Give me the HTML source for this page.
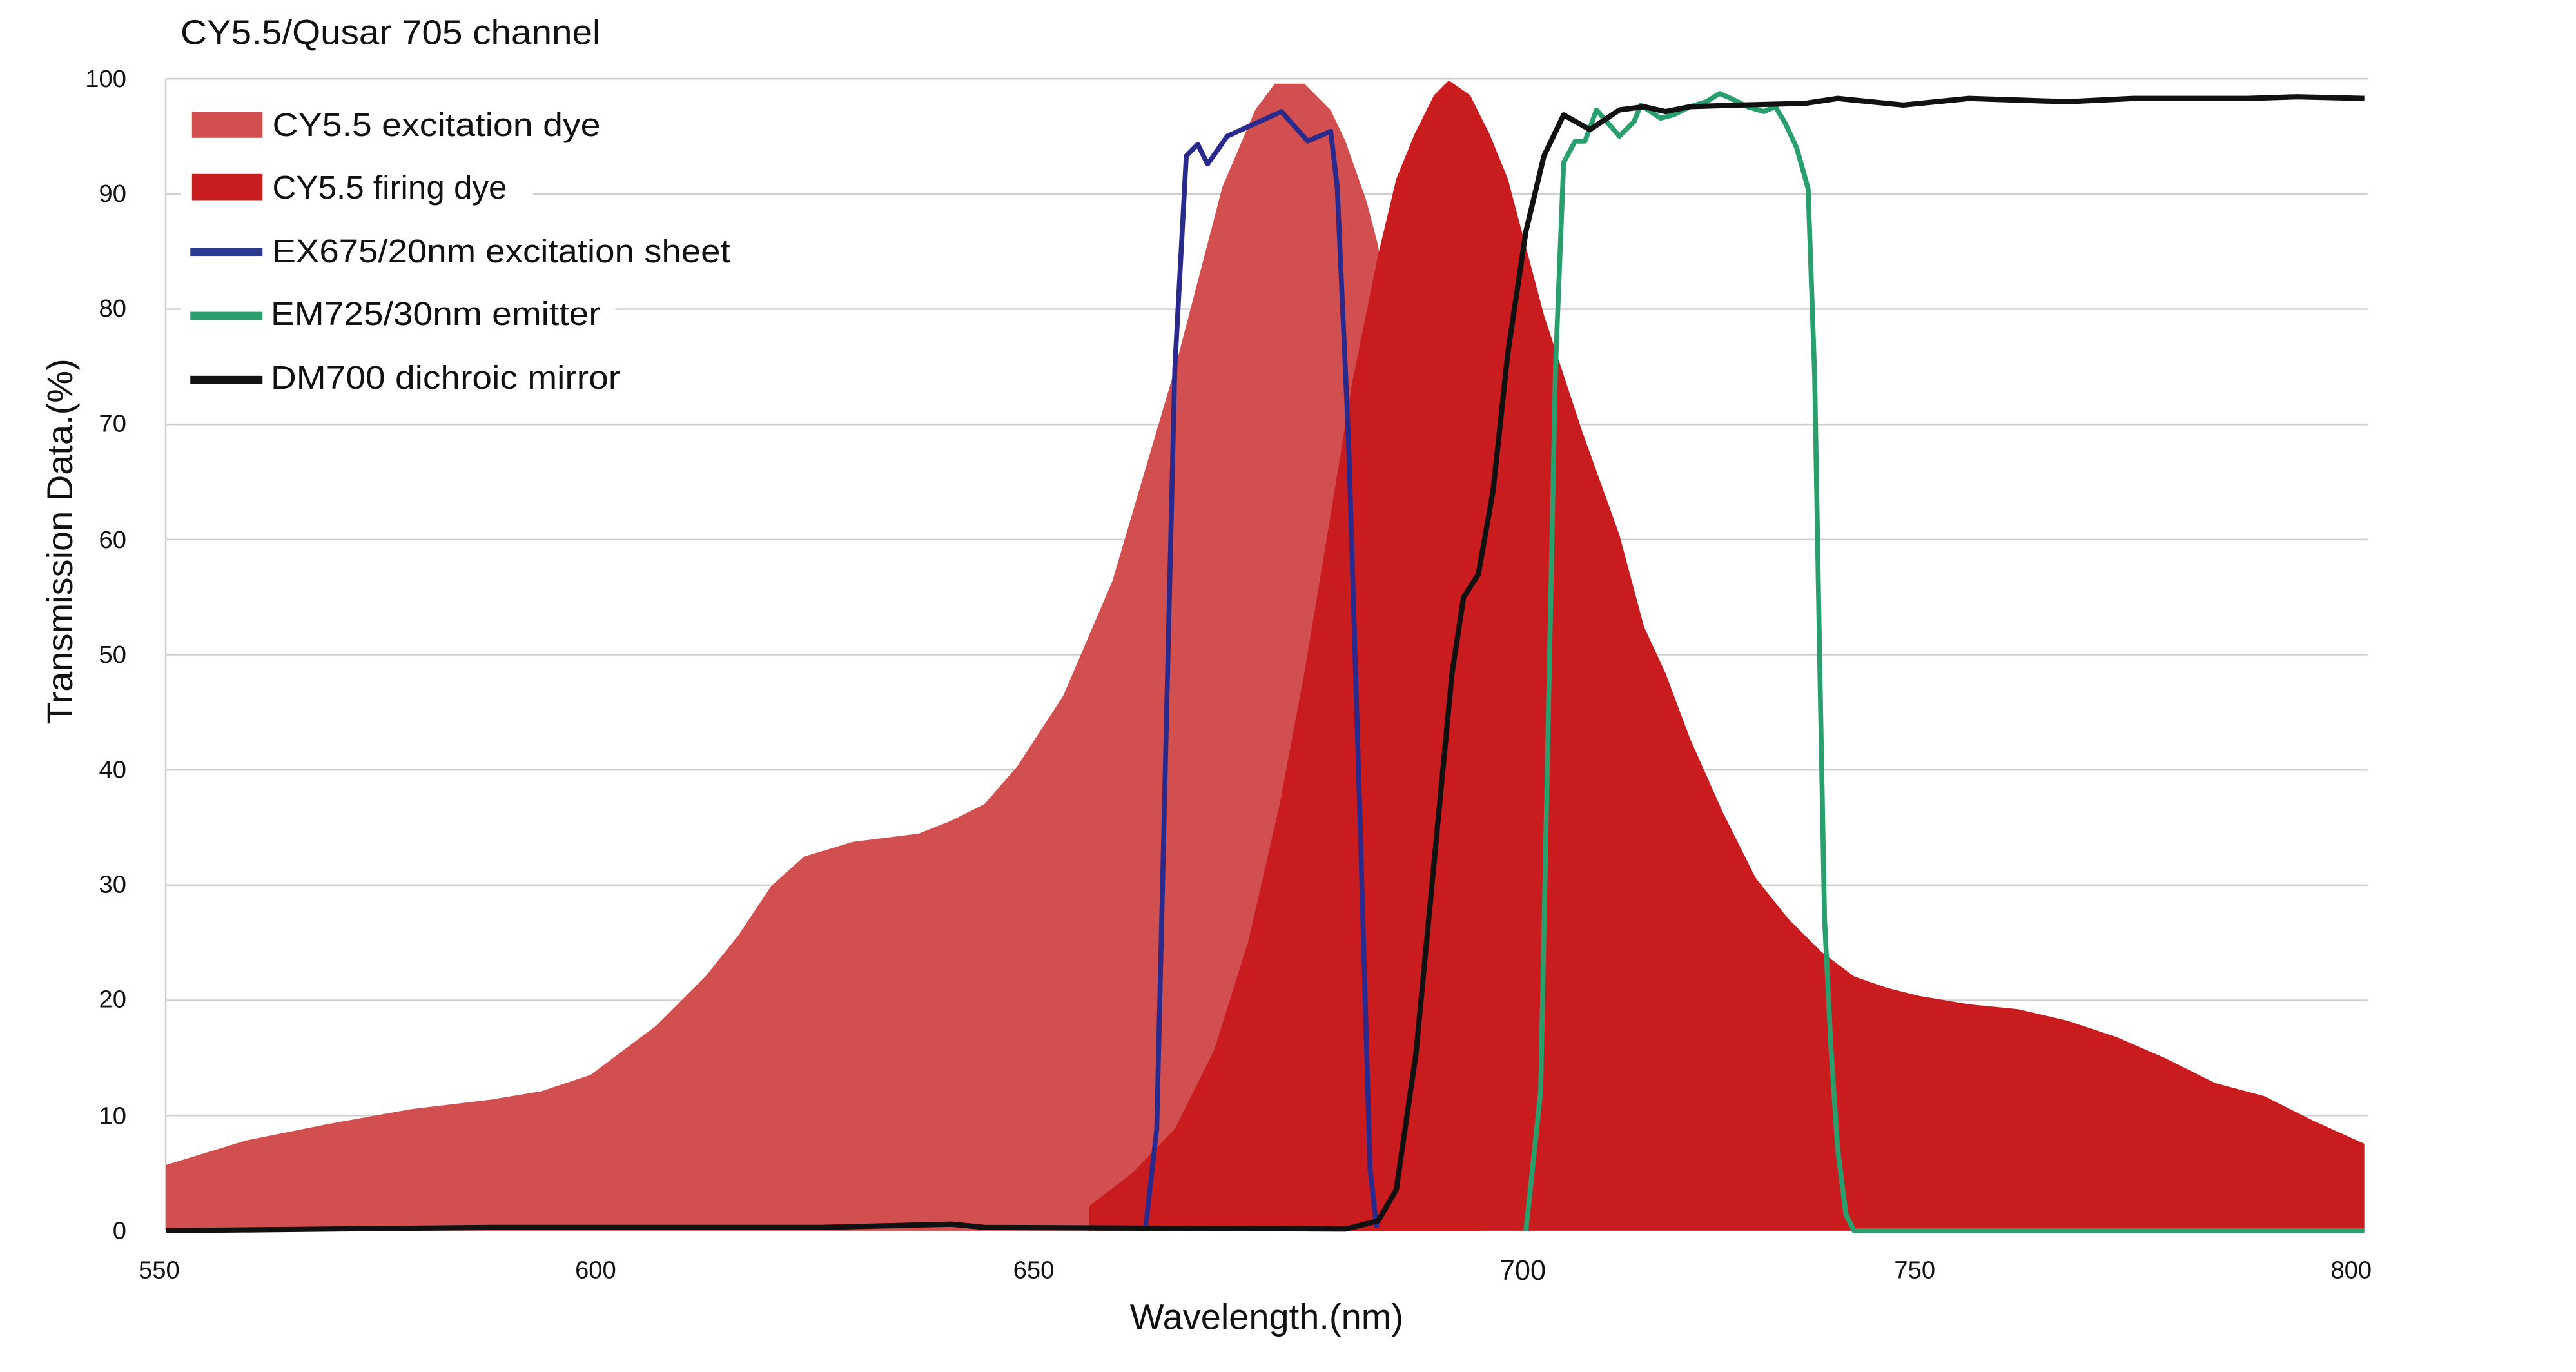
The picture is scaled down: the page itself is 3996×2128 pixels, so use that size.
<!DOCTYPE html>
<html><head><meta charset="utf-8"><style>
html,body{margin:0;padding:0;background:#fff;}
svg{display:block;}
text{font-family:"Liberation Sans Narrow","Liberation Sans",sans-serif;fill:#111;}
</style></head><body>
<svg width="3996" height="2128" viewBox="0 0 1570 836.1" preserveAspectRatio="none" xmlns="http://www.w3.org/2000/svg">
<defs>
<clipPath id="exc"><path id="excp" d="M101,750 L101,710 L150,695 L200,685 L250,676 L300,670 L330,665 L360,655 L400,625 L430,595 L450,570 L470,540 L490,522 L520,513 L560,508 L580,500 L600,490 L620,467 L648,424 L678,354 L716,225 L745,114 L765,67 L777,51 L795,51 L811,67 L820,86 L833,123 L840,150 L850,230 L860,330 L870,450 L880,580 L890,690 L900,750 Z"/></clipPath>
</defs>
<rect width="1570" height="837" fill="#fff"/>
<g stroke="#cfcfcf" stroke-width="1">
<line x1="101" y1="48" x2="1443" y2="48"/>
<line x1="101" y1="118.2" x2="1443" y2="118.2"/>
<line x1="101" y1="188.4" x2="1443" y2="188.4"/>
<line x1="101" y1="258.6" x2="1443" y2="258.6"/>
<line x1="101" y1="328.8" x2="1443" y2="328.8"/>
<line x1="101" y1="399" x2="1443" y2="399"/>
<line x1="101" y1="469.2" x2="1443" y2="469.2"/>
<line x1="101" y1="539.4" x2="1443" y2="539.4"/>
<line x1="101" y1="609.6" x2="1443" y2="609.6"/>
<line x1="101" y1="679.8" x2="1443" y2="679.8"/>
<line x1="101" y1="48" x2="101" y2="750"/>
</g>
<use href="#excp" fill="#d24f50"/>
<path id="emi" fill="#c81c1e" d="M664,750 L664,735 L690,715 L716,688 L740,640 L761,573 L780,490 L795,410 L810,320 L824,234 L840,155 L851,109 L862,82 L874,58 L883,49 L896,58 L908,82 L919,109 L941,192 L964,262 L987,326 L1002,382 L1015,410 L1030,450 L1050,495 L1070,535 L1090,560 L1110,580 L1130,595 L1150,602 L1170,607 L1200,612 L1230,615 L1260,622 L1290,632 L1320,645 L1350,660 L1380,668 L1410,683 L1441,697 L1441,750 Z"/>
<use href="#emi" fill="#c10b0d" clip-path="url(#exc)"/>
<polyline fill="none" stroke="#2a2a8c" stroke-width="3" stroke-linejoin="round" points="698,750 705,688 716,225 723,95 730,88 736,100 748,83 781,68 797,86 811,80 815,114 822,271 829,503 835,712 839,748"/>
<polyline fill="none" stroke="#2a9f6e" stroke-width="3" stroke-linejoin="round" points="930,750 939,665 948,225 953,99 960,86 966,86 973,67 980,75 987,83 996,74 1000,64 1006,68 1012,72 1020,70 1030,65 1040,62 1048,57 1055,60 1065,65 1075,68 1082,65 1088,75 1095,90 1102,115 1106,230 1109,400 1112,560 1116,640 1120,700 1125,740 1130,750 1441,750"/>
<polyline fill="none" stroke="#111" stroke-width="3.2" stroke-linejoin="round" points="101,750 300,748 500,748 580,746 600,748 820,749 840,744 851,725 863,642 874,526 885,410 892,364 901,350 910,299 919,215 930,141 941,95 953,70 969,79 987,67 1002,65 1015,68 1030,65 1060,64 1100,63 1120,60 1140,62 1160,64 1180,62 1200,60 1230,61 1260,62 1300,60 1340,60 1370,60 1400,59 1441,60"/>
<g fill="#fff">
<rect x="110" y="62" width="265" height="28"/>
<rect x="110" y="100" width="215" height="28"/>
<rect x="110" y="139" width="345" height="28"/>
<rect x="110" y="177" width="265" height="28"/>
<rect x="110" y="216" width="280" height="28"/>
</g>
<rect x="117" y="68" width="43" height="16" fill="#d24f50"/>
<rect x="117" y="106" width="43" height="16" fill="#c81c1e"/>
<rect x="116" y="151" width="44" height="5" fill="#2a3a90"/>
<rect x="116" y="190" width="44" height="5" fill="#2a9f6e"/>
<rect x="116" y="229" width="44" height="5" fill="#111"/>
<g font-size="20">
<text x="166" y="83" textLength="200" lengthAdjust="spacingAndGlyphs">CY5.5 excitation dye</text>
<text x="166" y="121" textLength="143" lengthAdjust="spacingAndGlyphs">CY5.5 firing dye</text>
<text x="166" y="160" textLength="279" lengthAdjust="spacingAndGlyphs">EX675/20nm excitation sheet</text>
<text x="165" y="198" textLength="201" lengthAdjust="spacingAndGlyphs">EM725/30nm emitter</text>
<text x="165" y="237" textLength="213" lengthAdjust="spacingAndGlyphs">DM700 dichroic mirror</text>
</g>
<text x="110" y="27" font-size="21" textLength="256" lengthAdjust="spacingAndGlyphs">CY5.5/Qusar 705 channel</text>
<g font-size="15" text-anchor="end">
<text x="77" y="53">100</text>
<text x="77" y="123">90</text>
<text x="77" y="193">80</text>
<text x="77" y="263">70</text>
<text x="77" y="334">60</text>
<text x="77" y="404">50</text>
<text x="77" y="474">40</text>
<text x="77" y="544">30</text>
<text x="77" y="614">20</text>
<text x="77" y="685">10</text>
<text x="77" y="755">0</text>
</g>
<g font-size="15" text-anchor="middle">
<text x="97" y="779">550</text>
<text x="363" y="779">600</text>
<text x="630" y="779">650</text>
<text x="928" y="780" font-size="17">700</text>
<text x="1167" y="779">750</text>
<text x="1433" y="779">800</text>
</g>
<text x="772" y="810" font-size="22" text-anchor="middle">Wavelength.(nm)</text>
<text transform="translate(44,330) rotate(-90)" font-size="22" text-anchor="middle">Transmission Data.(%)</text>
</svg>
</body></html>
